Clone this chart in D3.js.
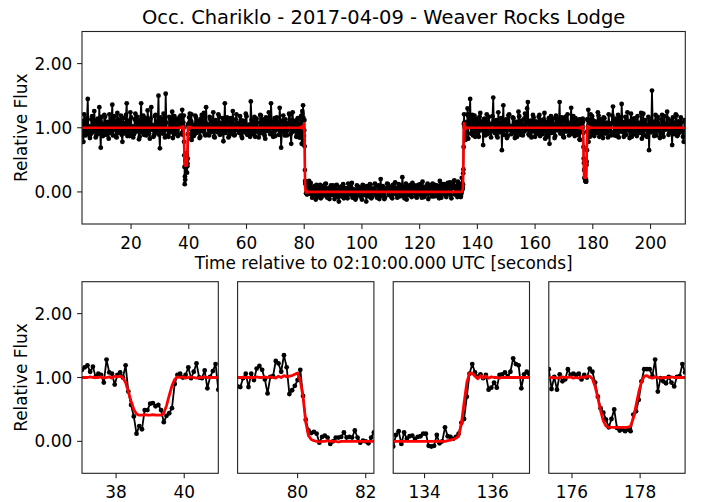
<!DOCTYPE html>
<html>
<head>
<meta charset="utf-8">
<script src="https://cdn.jsdelivr.net/npm/d3@7"></script>
<style>
  body { margin: 0; background: #fff; }
  svg { display: block; font-family: "DejaVu Sans", sans-serif; }
</style>
</head>
<body>
<svg id="chart" width="706" height="502"></svg>
<script>
// ---- Light-curve samples between the close-up windows (0.25 s spacing) ----
const segStarts = [3.0, 41.25, 82.5, 137.25, 179.5];
const segStep = 0.25;
const segLevels = [1, 1, 0, 1, 1];   // fitted flux level on each stretch

const fluxA = [
  0.86,1.10,0.78,1.21,1.12,0.88,0.94,1.15,1.45,0.90,
  1.02,0.84,0.90,1.13,1.18,0.93,0.95,1.26,1.09,0.85,
  0.88,1.12,1.14,0.91,1.32,0.96,0.69,1.17,1.06,0.87,
  0.93,1.20,1.17,0.90,0.89,1.09,1.04,0.83,1.21,0.95,
  0.92,1.14,1.36,0.88,0.97,1.18,1.10,0.86,0.85,1.23,
  1.13,0.92,0.96,1.07,1.19,0.89,0.78,1.15,1.07,0.94,
  0.91,1.20,1.38,0.87,0.99,1.11,0.87,1.24,1.16,0.90,
  1.02,0.85,0.90,1.13,1.22,0.96,0.94,1.17,1.08,0.82,
  0.86,1.12,1.38,0.93,1.01,1.19,0.89,1.06,1.15,0.88,
  0.95,1.27,1.11,0.91,0.83,1.14,1.32,0.97,1.04,0.86,
  0.88,1.18,1.20,0.92,0.93,1.10,1.50,0.89,0.68,1.16,
  1.12,0.94,0.91,1.22,1.06,0.85,1.53,1.08,0.97,0.88,
  0.86,1.17,1.14,0.93,1.00,1.25,0.84,1.09,1.18,0.90,
  0.95,1.13,1.10,0.87,0.89,1.16];
const fluxB = [
  0.93,1.05,0.87,0.90,1.19,1.16,0.92,0.94,1.11,1.08,
  0.84,0.86,1.14,1.20,0.95,0.98,1.23,0.91,0.88,1.32,
  1.06,1.03,0.90,0.88,1.17,1.13,0.93,0.96,1.10,1.24,
  0.86,0.85,1.12,1.07,0.95,0.93,1.21,1.17,0.89,1.01,
  1.08,0.90,1.15,0.79,1.04,1.38,0.92,0.97,1.16,1.10,
  0.85,0.87,1.09,1.15,0.91,0.94,1.26,1.06,0.88,0.89,
  1.13,1.21,0.96,0.99,1.07,0.92,1.18,1.12,0.87,0.84,
  1.11,1.09,0.93,0.96,1.22,1.18,0.89,0.90,1.05,1.04,
  0.86,1.41,1.12,0.93,0.90,1.08,1.17,0.86,0.94,1.14,
  1.08,1.00,0.85,0.91,1.20,1.19,0.92,0.95,1.13,1.07,
  0.88,0.83,1.16,1.12,0.95,0.97,1.24,1.05,0.90,1.38,
  1.09,0.92,0.86,1.10,1.15,0.87,0.97,1.16,1.06,0.98,
  0.89,1.31,1.11,0.69,0.93,1.09,1.19,0.94,0.88,1.13,
  1.07,0.88,0.96,1.06,1.22,1.20,0.90,0.75,1.12,1.24,
  0.94,0.96,1.08,1.11,0.86,0.89,1.15,1.04];
const fluxC = [
  0.05,-0.09,-0.06,0.08,0.09,-0.03,-0.12,0.11,0.02,-0.08,
  -0.04,0.06,0.11,-0.10,-0.08,0.09,0.04,-0.05,-0.02,0.12,
  0.13,-0.07,-0.09,0.03,0.06,-0.11,-0.05,0.10,0.01,-0.04,
  0.10,0.07,-0.11,-0.06,0.03,0.11,-0.03,-0.08,-0.15,0.05,
  0.08,-0.02,-0.07,0.09,0.12,-0.10,-0.01,0.06,0.05,-0.07,
  -0.10,0.13,0.07,-0.03,-0.04,0.08,0.14,-0.09,-0.06,0.04,
  0.02,-0.12,-0.09,0.10,0.09,-0.05,-0.02,0.07,0.04,-0.08,
  -0.12,0.11,0.10,-0.04,-0.05,0.06,-0.15,0.09,0.06,-0.07,
  -0.03,0.12,0.11,-0.10,-0.08,0.05,0.03,-0.02,0.13,0.08,
  -0.06,-0.09,0.01,0.10,-0.11,0.04,0.20,-0.06,-0.02,0.09,
  0.07,-0.11,-0.09,0.05,0.04,0.13,0.12,-0.04,-0.05,0.07,
  0.08,-0.08,-0.10,0.11,0.02,-0.03,0.15,0.06,-0.04,-0.09,
  0.06,0.12,-0.07,0.02,0.10,-0.06,0.23,0.08,-0.03,-0.10,
  0.05,0.13,-0.12,0.01,0.09,-0.05,0.01,0.11,-0.06,-0.08,
  0.14,0.04,-0.02,0.10,0.07,-0.07,-0.09,0.06,0.11,-0.03,
  0.03,0.12,-0.05,-0.09,0.16,0.05,-0.08,0.08,0.04,-0.04,
  0.09,0.13,-0.11,-0.02,0.06,0.10,-0.01,-0.07,0.13,0.03,
  -0.07,0.11,0.02,-0.06,0.10,0.07,-0.04,-0.10,0.17,0.04,
  -0.09,0.12,0.05,-0.03,0.12,0.09,-0.06,-0.08,0.08,0.14,
  -0.02,0.01,0.15,-0.05,-0.10,0.10,0.06,0.16,0.18,-0.04,
  -0.03,0.09];
const fluxD = [
  1.12,1.45,0.91,1.02,1.20,0.88,1.08,1.19,0.86,0.95,
  1.14,1.10,0.92,0.86,1.17,1.23,0.96,0.97,1.09,0.73,
  1.13,1.14,0.88,1.01,1.21,0.90,0.94,1.17,1.06,0.94,
  0.85,1.06,1.18,1.47,0.95,0.92,1.10,1.12,0.87,0.85,
  1.24,1.08,0.93,0.99,1.15,0.65,1.05,1.35,0.89,0.96,
  1.12,1.13,0.84,0.87,1.19,1.21,0.97,1.03,0.90,0.91,
  1.16,1.15,0.93,0.84,1.08,1.09,0.86,0.95,1.25,1.18,
  0.92,0.89,1.11,1.05,0.88,0.93,1.14,1.22,0.96,0.98,
  1.30,1.40,0.90,0.88,1.07,1.11,0.85,0.96,1.20,1.16,
  0.94,0.86,1.10,1.07,0.91,0.94,1.17,1.20,0.87,1.00,
  1.12,0.90,0.95,1.13,1.23,0.83,0.98,1.09,0.86,0.97,
  1.15,0.75,1.06,1.18,0.92,0.95,1.14,1.06,0.84,0.87,
  1.19,1.14,0.96,0.99,1.09,1.40,0.91,0.92,1.16,1.10,
  0.86,0.85,1.12,1.17,0.94,0.96,1.21,1.08,0.88,0.89,
  1.05,1.31,0.93,1.02,1.18,0.90,0.87,1.15,1.10,0.93,
  0.89,1.07];
const fluxE = [
  0.94,1.18,1.12,0.89,0.87,1.10,1.06,0.92,0.97,1.24,
  1.19,0.86,0.90,1.13,1.09,0.95,0.84,1.16,1.15,0.91,
  1.01,1.08,0.92,0.85,1.21,1.03,0.95,0.88,1.07,1.19,
  1.33,0.93,0.88,1.14,1.11,0.87,0.98,1.20,0.85,1.06,
  1.16,0.94,1.37,1.09,0.93,0.86,1.04,1.17,0.89,0.96,
  1.24,1.10,0.96,0.84,1.10,1.22,0.86,0.99,1.14,0.90,
  1.00,1.15,0.91,0.87,1.18,1.06,0.94,0.92,1.08,1.23,
  0.83,1.01,1.22,0.88,0.97,1.12,1.05,0.86,0.90,1.17,
  0.65,1.04,1.13,0.93,1.58,1.09,0.95,0.87,1.09,1.20,
  0.88,0.95,1.17,1.07,1.02,0.84,0.91,1.13,1.20,0.92,
  0.86,1.18,1.06,0.97,0.99,1.25,1.14,0.89,0.92,1.05,
  1.11,0.94,0.73,1.16,1.08,0.90,0.96,1.21,1.19,0.87,
  0.89,1.10,1.03,0.93,1.16,1.08,0.94,0.86,0.78,1.12,
  1.10];
const segFlux = [fluxA, fluxB, fluxC, fluxD, fluxE];

// ---- Close-up windows around each event (0.08 s spacing) ----
const winStarts = [37.0, 78.24, 133.08, 175.32];
const winStep = 0.08;

const win1Flux = [1.12,1.16,1.19,1.09,1.17,1.01,1.06,1.04,0.92,1.28,
  1.08,1.06,0.89,1.04,1.08,1.00,1.19,0.78,0.57,0.39,
  0.12,0.24,0.19,0.49,0.49,0.59,0.60,0.55,0.57,0.49,
  0.30,0.40,0.44,0.52,0.90,1.04,1.06,1.00,1.04,1.16,
  0.99,1.09,1.22,1.00,0.99,1.11,0.83,1.01,1.10,1.21,0.81];
const win1Model = [1.00,1.00,1.00,1.01,1.00,1.00,1.00,1.01,0.99,1.00,
  1.01,0.99,1.02,1.01,1.02,1.00,0.92,0.78,0.63,0.50,
  0.43,0.41,0.41,0.42,0.41,0.41,0.42,0.41,0.41,0.41,
  0.44,0.56,0.72,0.87,0.97,1.01,1.00,1.01,0.99,1.00,
  1.01,1.00,0.99,1.00,1.00,1.01,1.00,1.00,1.00,1.00,1.00];

const win2Flux = [0.86,0.85,0.99,1.06,0.85,1.06,0.96,1.14,1.18,1.12,
  0.97,0.75,1.01,1.02,1.26,1.22,1.09,1.35,1.16,0.74,
  0.80,0.87,0.96,1.12,0.71,0.34,0.17,0.13,0.15,0.12,
  -0.02,0.07,0.09,0.06,-0.04,0.00,0.06,0.06,0.07,0.14,
  0.06,0.07,0.06,0.17,0.06,-0.02,0.01,0.00,-0.03,0.06,0.14];
const win2Model = [1.00,1.00,1.00,1.00,1.00,1.00,1.00,1.01,1.00,1.00,
  1.01,1.00,1.01,1.00,0.99,1.02,1.00,1.03,1.01,1.02,
  1.03,1.05,1.07,0.95,0.70,0.30,0.09,0.03,0.01,0.00,
  -0.01,0.00,0.00,0.01,0.00,0.00,0.00,-0.01,0.00,0.00,
  0.00,0.00,0.00,0.00,0.00,0.00,0.00,0.00,0.00,0.00,0.00];

const win3Flux = [-0.08,0.10,0.16,-0.04,0.14,0.04,0.08,0.09,0.04,0.07,
  0.08,0.12,0.12,-0.07,-0.08,-0.07,0.10,-0.03,0.00,0.22,
  0.08,0.07,0.04,0.07,0.12,0.29,0.35,0.70,1.06,1.21,
  1.08,1.01,1.05,0.99,1.04,0.81,0.84,0.92,0.84,1.04,
  1.05,1.08,1.02,1.09,1.30,1.21,1.19,0.83,1.05,1.09,1.05];
const win3Model = [0.00,0.00,0.00,0.00,0.00,0.00,0.00,0.00,0.00,0.00,
  0.00,0.00,0.00,0.00,0.00,0.00,0.00,0.00,0.00,0.00,
  0.01,0.02,0.03,0.05,0.08,0.27,0.60,0.92,1.07,1.07,
  1.02,0.98,1.03,0.99,1.02,0.99,1.01,1.00,1.00,0.99,
  1.00,1.00,1.00,1.00,1.00,1.00,1.00,1.00,1.00,1.00,1.00];

const win4Flux = [1.13,0.82,1.01,0.81,1.05,0.94,0.97,1.13,1.04,1.06,
  1.04,1.06,0.97,1.04,1.00,1.14,1.09,0.92,0.70,0.52,
  0.45,0.34,0.22,0.35,0.50,0.21,0.17,0.19,0.16,0.19,
  0.16,0.42,0.47,0.65,0.94,1.13,1.13,1.13,1.02,1.28,
  0.78,0.99,0.94,0.91,1.01,0.92,0.86,1.01,1.02,1.21,1.08];
const win4Model = [1.00,1.00,1.00,0.99,1.00,1.01,1.00,1.00,1.01,0.99,
  1.00,0.99,1.01,1.00,1.02,1.02,0.98,0.86,0.68,0.48,
  0.32,0.24,0.22,0.22,0.22,0.22,0.22,0.22,0.22,0.22,
  0.24,0.36,0.56,0.77,0.93,1.02,1.03,1.00,0.99,1.01,
  1.00,0.99,1.00,1.00,1.00,1.01,1.00,1.00,1.00,1.00,1.00];

const winFlux = [win1Flux, win2Flux, win3Flux, win4Flux];
const winModel = [win1Model, win2Model, win3Model, win4Model];

// ---- Axes ----
const mainXTicks = [20, 40, 60, 80, 100, 120, 140, 160, 180, 200];
const winXTicks = [[38, 40], [80, 82], [134, 136], [176, 178]];
const yTicks = [0, 1, 2];
const yRange = [-0.5, 2.5];
const mainXRange = [3.0, 212.05];

const title = "Occ. Chariklo - 2017-04-09 - Weaver Rocks Lodge";
const xLabel = "Time relative to 02:10:00.000 UTC [seconds]";
const yLabel = "Relative Flux";

// ---- Build time series ----
const mainPts = [];
const mainModel = [];
const pushSeg = (s) => {
  const f = segFlux[s];
  f.forEach((v, i) => mainPts.push([segStarts[s] + i * segStep, v]));
  mainModel.push([segStarts[s], segLevels[s]]);
  mainModel.push([segStarts[s] + (f.length - 1) * segStep, segLevels[s]]);
};
const winPts = winFlux.map((f, w) => f.map((v, i) => [winStarts[w] + i * winStep, v]));
const winModelPts = winModel.map((m, w) => m.map((v, i) => [winStarts[w] + i * winStep, v]));
for (let s = 0; s < 5; s++) {
  pushSeg(s);
  if (s < 4) {
    winPts[s].forEach(p => mainPts.push(p));
    winModelPts[s].forEach(p => mainModel.push(p));
  }
}

const svg = d3.select("#chart");
const FS = 16.9;
const spine = "#222";

function panel(id, box, xDomain, xTicks, pts, model, opts) {
  const x = d3.scaleLinear().domain(xDomain).range([box.left, box.right]);
  const y = d3.scaleLinear().domain(yRange).range([box.bottom, box.top]);
  const g = svg.append("g");

  g.append("clipPath").attr("id", id).append("rect")
    .attr("x", box.left).attr("y", box.top)
    .attr("width", box.right - box.left).attr("height", box.bottom - box.top);

  const plot = g.append("g").attr("clip-path", `url(#${id})`);
  const line = d3.line().x(d => x(d[0])).y(d => y(d[1]));

  plot.append("path").datum(pts).attr("d", line)
    .attr("fill", "none").attr("stroke", "#000")
    .attr("stroke-width", opts.lw).attr("stroke-linejoin", "round");
  plot.append("g").selectAll("circle").data(pts).join("circle")
    .attr("cx", d => x(d[0])).attr("cy", d => y(d[1]))
    .attr("r", opts.r).attr("fill", "#000");
  plot.append("path").datum(model).attr("d", line)
    .attr("fill", "none").attr("stroke", "#ff0000")
    .attr("stroke-width", opts.mw).attr("stroke-linejoin", "round");

  // frame
  g.append("rect")
    .attr("x", box.left).attr("y", box.top)
    .attr("width", box.right - box.left).attr("height", box.bottom - box.top)
    .attr("fill", "none").attr("stroke", spine).attr("stroke-width", 1.1);

  // x ticks
  const xa = g.append("g");
  xTicks.forEach(t => {
    const px = x(t);
    xa.append("line").attr("x1", px).attr("x2", px)
      .attr("y1", box.bottom).attr("y2", box.bottom + 4.9)
      .attr("stroke", spine).attr("stroke-width", 1.1);
    xa.append("text").attr("x", px).attr("y", box.bottom + 24.5)
      .attr("text-anchor", "middle").attr("font-size", FS).attr("fill", "#000")
      .text(t);
  });

  if (opts.yAxis) {
    const ya = g.append("g");
    yTicks.forEach(t => {
      const py = y(t);
      ya.append("line").attr("x1", box.left - 4.9).attr("x2", box.left)
        .attr("y1", py).attr("y2", py)
        .attr("stroke", spine).attr("stroke-width", 1.1);
      ya.append("text").attr("x", box.left - 9.8).attr("y", py + 6)
        .attr("text-anchor", "end").attr("font-size", FS).attr("fill", "#000")
        .text(d3.format(".2f")(t));
    });
    g.append("text")
      .attr("transform", `translate(27,${(box.top + box.bottom) / 2}) rotate(-90)`)
      .attr("text-anchor", "middle").attr("font-size", FS).attr("fill", "#000")
      .text(yLabel);
  }
  return { x, y };
}

// Main light curve
const mainBox = { left: 82, right: 685.3, top: 31.5, bottom: 224 };
panel("clipMain", mainBox, mainXRange, mainXTicks, mainPts, mainModel,
  { lw: 1.8, r: 2.4, mw: 2.6, yAxis: true });

svg.append("text").attr("x", (mainBox.left + mainBox.right) / 2).attr("y", 23.5)
  .attr("text-anchor", "middle").attr("font-size", 19.5).attr("fill", "#000")
  .text(title);
svg.append("text").attr("x", (mainBox.left + mainBox.right) / 2).attr("y", 268.5)
  .attr("text-anchor", "middle").attr("font-size", FS).attr("fill", "#000")
  .text(xLabel);

// Close-ups of the four events
const winLefts = [82, 237.6, 393.2, 548.8];
const winWidth = 136.3;
winLefts.forEach((l, w) => {
  const box = { left: l, right: l + winWidth, top: 281.7, bottom: 473.3 };
  const dom = [winStarts[w], winStarts[w] + (winFlux[w].length - 1) * winStep];
  panel("clipWin" + w, box, dom, winXTicks[w], winPts[w], winModelPts[w],
    { lw: 1.8, r: 2.4, mw: 2.8, yAxis: w === 0 });
});
</script>
</body>
</html>
